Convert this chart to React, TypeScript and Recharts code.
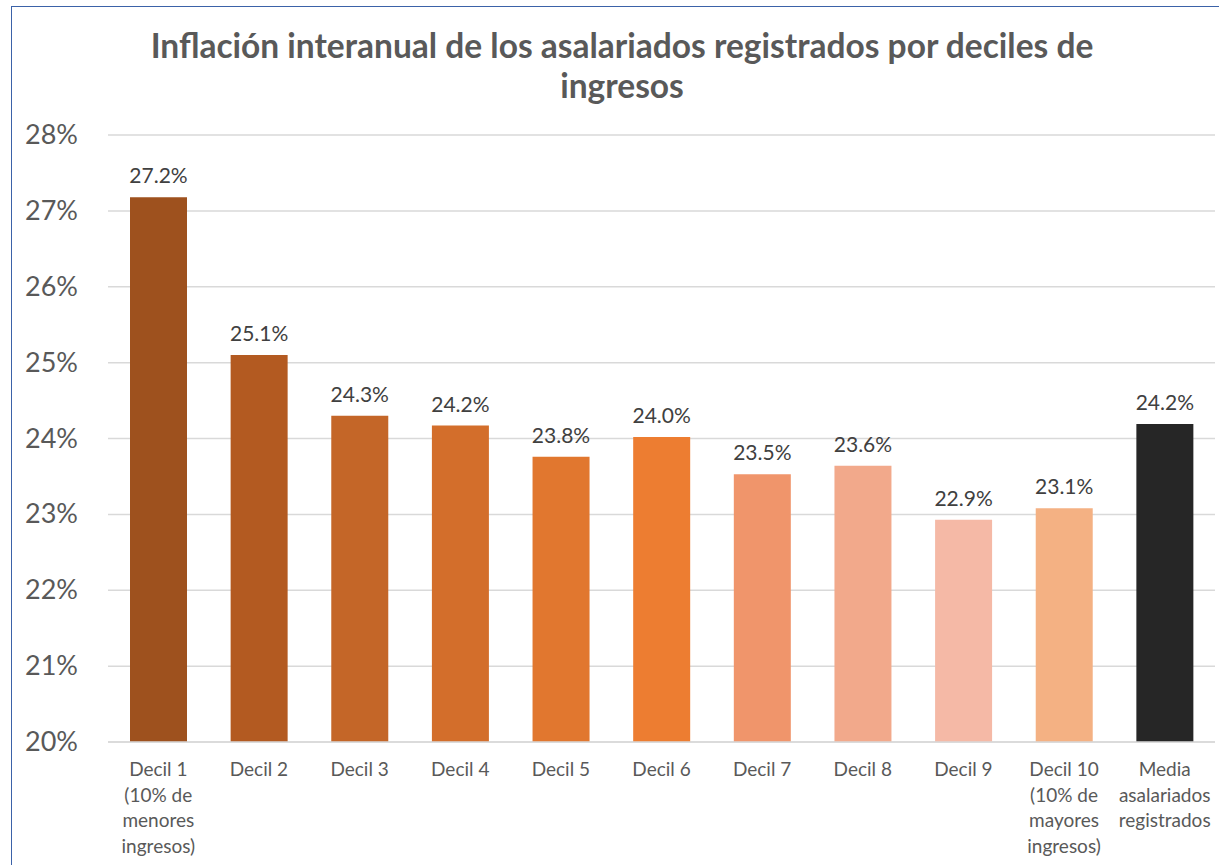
import React from 'react'
import { BarChart, Bar, XAxis, YAxis, CartesianGrid, Cell, LabelList } from 'recharts'

const categories = [
  'Decil 1\n(10% de\nmenores\ningresos)',
  'Decil 2',
  'Decil 3',
  'Decil 4',
  'Decil 5',
  'Decil 6',
  'Decil 7',
  'Decil 8',
  'Decil 9',
  'Decil 10\n(10% de\nmayores\ningresos)',
  'Media\nasalariados\nregistrados',
]
const inflation = [27.18, 25.1, 24.3, 24.17, 23.76, 24.02, 23.53, 23.64, 22.93, 23.08, 24.19]
const barColors = [
  '#9E511E', '#B35A21', '#C46628', '#D36E2B', '#E1772F', '#ED7D31',
  '#F0956B', '#F2A98B', '#F5B9A6', '#F4B183', '#262626',
]
const yTicks = [20, 21, 22, 23, 24, 25, 26, 27, 28]

const FONT = 'Lato, "Open Sans", sans-serif'

const data = categories.map((name, i) => ({ name, value: inflation[i] }))

function XTick({ x, y, payload }: any) {
  const lines = String(payload.value).split('\n')
  return (
    <text x={x} y={y + 34} textAnchor="middle" fill="#595959" fontSize={19} fontFamily={FONT}>
      {lines.map((l, i) => (
        <tspan key={i} x={x} dy={i === 0 ? 0 : 25.7}>{l}</tspan>
      ))}
    </text>
  )
}

function YTick({ y, payload }: any) {
  return (
    <text x={78} y={y + 9} textAnchor="end" fill="#595959" fontSize={27} fontFamily={FONT}>
      {payload.value}%
    </text>
  )
}

function ValueLabel({ x, y, width, value }: any) {
  return (
    <text x={x + width / 2} y={y - 14} textAnchor="middle" fill="#404040" fontSize={21} fontFamily={FONT}>
      {Number(value).toFixed(1)}%
    </text>
  )
}

export default function App() {
  return (
    <div style={{ position: 'absolute', left: 0, top: 0, width: 1219, height: 865, overflow: 'hidden', background: '#fff' }}>
      <div style={{ position: 'absolute', left: 11, top: 6, width: 1300, height: 900, borderLeft: '1.5px solid #3B62A8', borderTop: '1.5px solid #3B62A8' }} />
      <div
        style={{
          position: 'absolute', left: 72, top: 25, width: 1100, textAlign: 'center',
          fontFamily: FONT, fontWeight: 700, fontSize: 33.5, lineHeight: '40px', color: '#595959',
        }}
      >
        Inflación interanual de los asalariados registrados por deciles de
        <br />
        ingresos
      </div>
      <div style={{ position: 'absolute', left: 0, top: 0 }}>
        <BarChart width={1219} height={865} data={data} margin={{ top: 135, right: 4, bottom: 0, left: 0 }} barSize={57}>
          <CartesianGrid vertical={false} stroke="#D9D9D9" strokeWidth={1.5} />
          <XAxis
            dataKey="name"
            height={123}
            interval={0}
            tickLine={false}
            tickSize={0}
            tickMargin={0}
            axisLine={{ stroke: '#D9D9D9', strokeWidth: 1.5 }}
            tick={<XTick />}
          />
          <YAxis
            width={108}
            domain={[20, 28]}
            ticks={yTicks}
            axisLine={false}
            tickLine={false}
            tick={<YTick />}
          />
          <Bar dataKey="value" isAnimationActive={false}>
            {data.map((d, i) => (
              <Cell key={d.name} fill={barColors[i]} />
            ))}
            <LabelList dataKey="value" content={<ValueLabel />} />
          </Bar>
        </BarChart>
      </div>
    </div>
  )
}
